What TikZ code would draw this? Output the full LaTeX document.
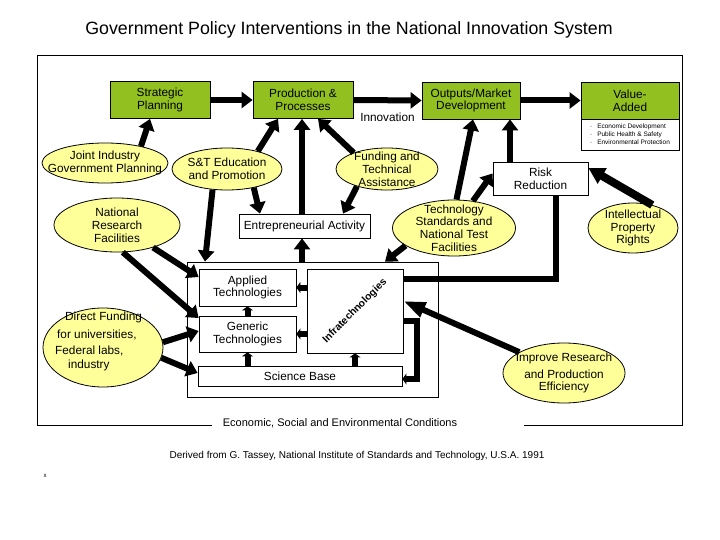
\documentclass[tikz,border=0pt]{standalone}
\usepackage{fontspec}
\setmainfont{Liberation Sans}
\usetikzlibrary{arrows.meta,shapes.geometric,calc}
\definecolor{gboxc}{RGB}{146,192,32}
\definecolor{ellc}{RGB}{255,255,153}
\begin{document}
\begin{tikzpicture}[x=1pt,y=-1pt,
  txt/.style={font=\fontsize{11.8}{12.8}\selectfont, align=center},
  gbox/.style={draw, line width=0.8pt, fill=gboxc, minimum width=100pt, minimum height=37pt, inner sep=0pt, txt},
  wbox/.style={draw, line width=0.8pt, fill=white, inner sep=0pt, txt},
  ell/.style={draw, line width=0.8pt, fill=ellc, ellipse, inner sep=0pt},
  fat/.style={line width=6pt, -{Triangle[length=11pt,width=16pt]}},
  small/.style={line width=6pt, -{Triangle[length=4pt,width=11pt]}},
  plain/.style={line width=6pt},
]
\useasboundingbox (0,0) rectangle (720,540);
\fill[white] (0,0) rectangle (720,540);

% title and frame
\node[font=\fontsize{17.8}{21}\selectfont] (title) at (349,30) {Government Policy Interventions in the National Innovation System};
\draw[line width=0.8pt] (212,425) -- (37,425) -- (37,55) -- (682,55) -- (682,425) -- (524,425);
\node[font=\fontsize{11}{13}\selectfont] (econ) at (340,423) {Economic, Social and Environmental Conditions};
\node[font=\fontsize{10}{12}\selectfont] (src) at (357,456) {Derived from G. Tassey, National Institute of Standards and Technology, U.S.A. 1991};
\node[font=\fontsize{6}{7}\selectfont] (xmark) at (45,476) {x};

% green boxes
\node[gbox] (sp) at (160,100) {Strategic\\Planning};
\node[gbox] (pp) at (303,100) {Production \&\\Processes};
\node[gbox, minimum width=98pt] (om) at (471,100.5) {Outputs/Market\\Development};
\node[gbox, minimum width=98pt] (va) at (630,100.5) {Value-\\Added};
\node[draw, line width=0.8pt, fill=white, minimum width=98pt, minimum height=31pt, inner sep=0pt,
      align=left, font=\fontsize{6.5}{8}\selectfont] (vab) at (630,134.5)
      {·\hspace{5pt}Economic Development\\·\hspace{5pt}Public Health \& Safety\\·\hspace{5pt}Environmental Protection};
\node[txt] (inn) at (387.5,117) {Innovation};

% ellipses
\node[ell, minimum width=126pt, minimum height=40pt, label={[txt]center:Joint Industry\\Government Planning}] (jigp) at (105,163) {};
\node[ell, minimum width=110pt, minimum height=42pt, label={[txt]center:S\&T Education\\and Promotion}] (st) at (227,169) {};
\node[ell, minimum width=126pt, minimum height=54pt, label={[txt]center:National\\Research\\Facilities}] (nrf) at (117,225) {};
\node[ell, minimum width=102pt, minimum height=42pt, label={[txt]center:Funding and\\Technical\\Assistance}] (fund) at (387,169) {};
\node[ell, minimum width=123pt, minimum height=56pt, label={[txt]center:Technology\\Standards and\\National Test\\Facilities}] (tsn) at (454,228) {};
\node[ell, minimum width=90pt, minimum height=50pt, label={[txt]center:Intellectual\\Property\\Rights}] (ipr) at (633,228) {};
\node[ell, minimum width=122pt, minimum height=60pt, label={[txt]center:Improve Research\\[4pt]and Production\\Efficiency}] (ire) at (564,373) {};
\node[ell, minimum width=120pt, minimum height=79pt] (df) at (103,347.5) {};
\node[txt, align=left, anchor=north west, inner sep=0pt] (dft) at (55,311.5)
  {\hspace*{10pt}Direct Funding\\[5pt]\hspace*{2pt}for universities,\\[4pt]Federal labs,\\[1pt]\hspace*{13pt}industry};

% rectangles
\node[wbox, minimum width=131pt, minimum height=24pt] (ent) at (304.5,226) {Entrepreneurial Activity};
\node[wbox, minimum width=95pt, minimum height=33pt] (rr) at (540.5,178.5) {Risk\\Reduction};
\node[draw, line width=0.8pt, fill=white, minimum width=251pt, minimum height=135pt, inner sep=0pt] (cont) at (312.5,329.5) {};
\node[wbox, minimum width=97pt, minimum height=37pt] (app) at (247.5,287.5) {Applied\\Technologies};
\node[wbox, minimum width=97pt, minimum height=36pt] (gen) at (247.5,334) {Generic\\Technologies};
\node[wbox, minimum width=204pt, minimum height=20pt] (sci) at (300,376) {Science Base};
\node[wbox, minimum width=96pt, minimum height=84pt,
      label={[rotate=45, font=\fontsize{10.3}{12}\selectfont\bfseries]center:Infratechnologies}] (inf) at (355,311) {};

% main chain
\draw[fat] (sp.east) -- (pp.west);
\draw[fat] (pp.east) -- (om.west);
\draw[fat] (om.east) -- (va.west);

% into top boxes
\draw[fat] (jigp.25) -- ([xshift=-10pt]sp.south);
\draw[fat] (st.30) -- ([xshift=-25pt]pp.south);
\draw[fat] ([xshift=-2.5pt]ent.north) -- ([xshift=-1pt]pp.south);
\draw[fat] (fund.154) -- ([xshift=15pt]pp.south);
\draw[fat] (tsn.85) -- ([xshift=2pt]om.south);
\draw[fat] ([xshift=-30.5pt]rr.north) -- ([xshift=39pt]om.south);

% middle
\draw[fat] (st.-35) -- ([xshift=-44.5pt]ent.north);
\draw[fat] (st.-125) -- ([xshift=-107.5pt]cont.north);
\draw[fat] (fund.-150) -- ([xshift=38.5pt]ent.north);
\draw[fat] ([xshift=-10.5pt]cont.north) -- ([xshift=-2.5pt]ent.south);
\draw[fat] (tsn.-160) -- ([xshift=72.5pt]cont.north);
\draw[fat] (tsn.55) -- ([yshift=5pt]rr.west);
\draw[line width=8pt, -{Triangle[length=16pt,width=17pt]}] (ipr.50) -- ([yshift=10.5pt]rr.east);

% left inputs
\draw[fat] (nrf.-32) -- ([yshift=10.5pt]app.west);
\draw[fat] (nrf.-78) -- ([yshift=16pt]gen.west);
\draw[fat] (df.5) -- ([yshift=3pt]gen.west);
\draw[fat] (df.-10) -- ([yshift=3pt]sci.west);

% right side
\draw[plain] ([xshift=15.5pt]rr.south) |- ([yshift=32pt]inf.east);
\draw[line width=6pt, -{Triangle[length=22pt,width=15pt]}] (ire.155) -- ([yshift=10pt]inf.east);
\draw[small] ([yshift=-10pt]inf.east) -- ++(14,0) |- ([yshift=-3pt]sci.east);

% inside container
\draw[small] (inf.west |- app.east) -- (app.east);
\draw[small] (inf.west |- gen.east) -- (gen.east);
\draw[small] (gen.north) -- (app.south);
\draw[small] (sci.north -| gen.south) -- (gen.south);
\draw[small] (sci.north -| inf.south) -- (inf.south);
\end{tikzpicture}
\end{document}
